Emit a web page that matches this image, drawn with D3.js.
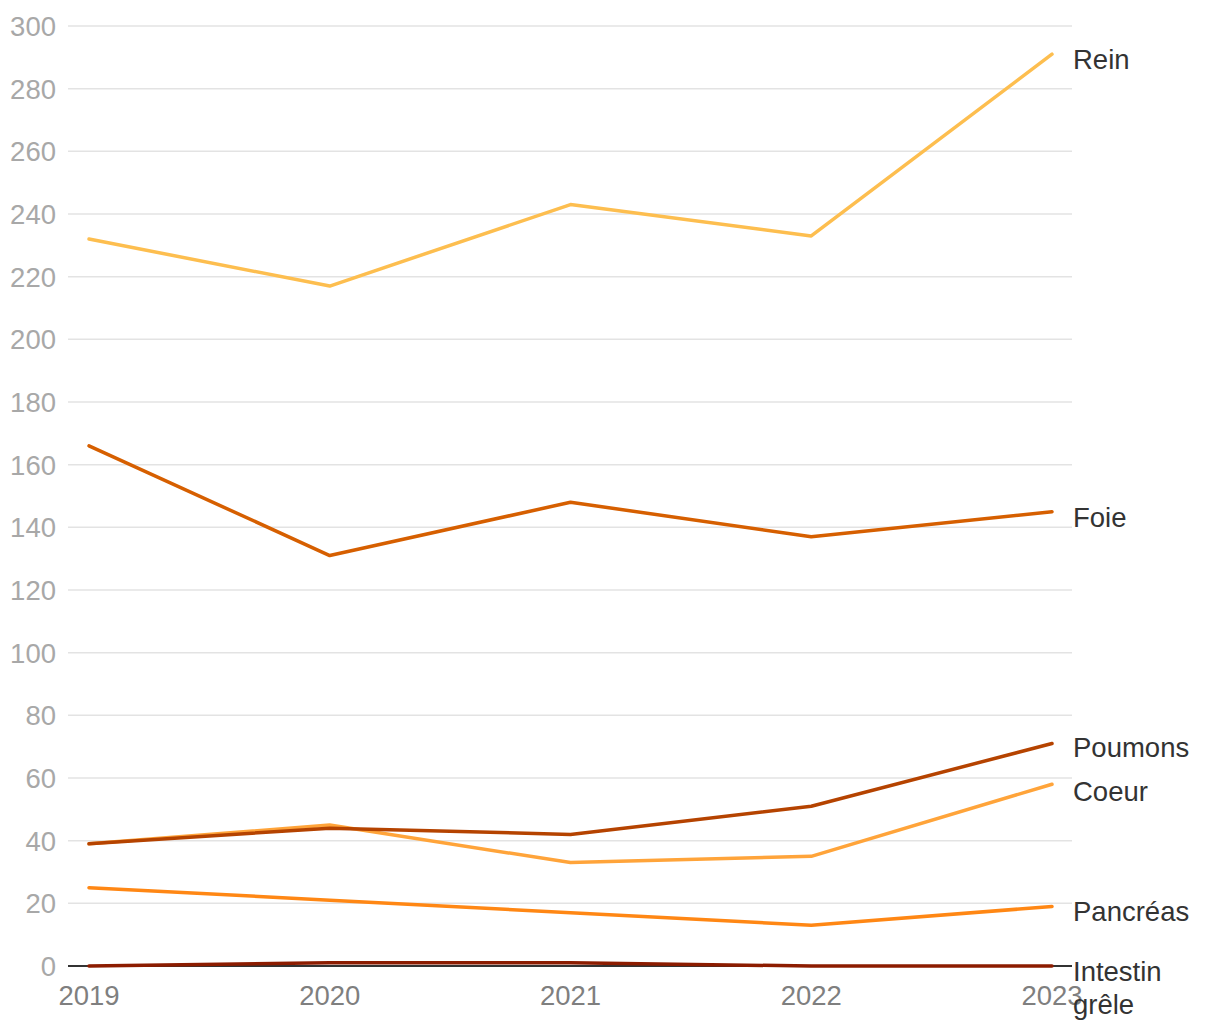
<!DOCTYPE html>
<html><head><meta charset="utf-8">
<script src="https://cdn.jsdelivr.net/npm/d3@7"></script>
<style>body{margin:0;background:#fff;font-family:"Liberation Sans",Arial,sans-serif;}</style>
</head><body><svg id="c" width="1220" height="1020"></svg>
<script>
const years = [2019, 2020, 2021, 2022, 2023];
const yTicks = [0,20,40,60,80,100,120,140,160,180,200,220,240,260,280,300];
const seriesNames = ["Rein","Foie","Poumons","Coeur","Pancréas","Intestin grêle"];
const seriesColors = ["#fdbe4f","#d65f00","#b54300","#ffa43a","#ff8714","#8c1c00"];
const rein = [232,217,243,233,291];
const foie = [166,131,148,137,145];
const poumons = [39,44,42,51,71];
const coeur = [39,45,33,35,58];
const pancreas = [25,21,17,13,19];
const intestin = [0,1,1,0,0];
const seriesValues = [rein,foie,poumons,coeur,pancreas,intestin];

const FS = 27.5;
const svg = d3.select("#c");
const x = d3.scaleLinear().domain([2019,2023]).range([89,1052]);
const y = d3.scaleLinear().domain([0,300]).range([966,26]);
const gridX0 = 68, gridX1 = 1072;

svg.append("g").selectAll("line").data(yTicks.filter(d=>d>0)).join("line")
  .attr("x1",gridX0).attr("x2",gridX1).attr("y1",d=>y(d)).attr("y2",d=>y(d))
  .attr("stroke","#e3e3e3").attr("stroke-width",1.5);

svg.append("g").selectAll("text").data(yTicks).join("text")
  .attr("x",56).attr("y",d=>y(d)).attr("dy","0.36em").attr("text-anchor","end")
  .attr("font-size",FS).attr("fill","#a8a8a8").text(d=>d);

svg.append("g").selectAll("text").data(years).join("text")
  .attr("x",d=>x(d)).attr("y",1005).attr("text-anchor","middle")
  .attr("font-size",FS).attr("fill","#7f7f7f").text(d=>d);

const line = d3.line().x((d,i)=>x(years[i])).y(d=>y(d));
const order = [5,4,3,2,1,0];
svg.append("line").attr("x1",gridX0).attr("x2",gridX1).attr("y1",y(0)).attr("y2",y(0))
  .attr("stroke","#333").attr("stroke-width",2);
svg.append("g").selectAll("path").data(order).join("path")
  .attr("d",i=>line(seriesValues[i])).attr("fill","none")
  .attr("stroke",i=>seriesColors[i]).attr("stroke-width",3.5)
  .attr("stroke-linejoin","round").attr("stroke-linecap","round");

// label positions with simple collision avoidance
const labs = seriesNames.map((n,i)=>({n, pos: y(seriesValues[i][4]) + 15}));
labs.sort((a,b)=>a.pos-b.pos);
const minGap = 44;
for(let it=0; it<50; it++){
  for(let k=1;k<labs.length;k++){
    const d = labs[k].pos - labs[k-1].pos;
    if(d < minGap){ const s=(minGap-d)/2; labs[k].pos+=s; labs[k-1].pos-=s; }
  }
}
const lab = svg.append("g").attr("font-size",FS).attr("fill","#333");
labs.forEach(l=>{
  const t = lab.append("text").attr("x",1073).attr("y",l.pos);
  if(l.n==="Intestin grêle"){
    t.append("tspan").attr("x",1073).text("Intestin");
    t.append("tspan").attr("x",1073).attr("dy",33).text("grêle");
  } else t.text(l.n);
});
</script></body></html>
